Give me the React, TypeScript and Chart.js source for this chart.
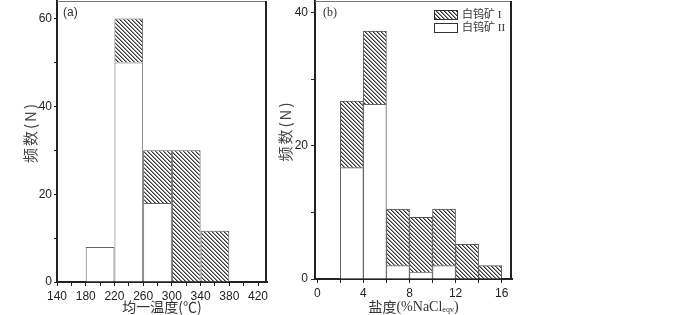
import { useEffect, useRef } from 'react';
import { Chart, registerables } from 'chart.js';

Chart.register(...registerables);

// ---------- Panel (a): homogenization temperature (°C), bins 40 wide ----------
const tempBinStarts = [180, 220, 260, 300, 340];
const tempBinWidth = 40;
const tempScheeliteI = [0, 10, 12, 30, 11.7];
const tempScheeliteII = [8, 50, 18, 0, 0];
const tempTickLabels = [140, 180, 220, 260, 300, 340, 380, 420];
const tempYTickLabels = [0, 20, 40, 60];

// ---------- Panel (b): salinity (%NaCl eqv), bins 2 wide ----------
const salBinStarts = [2, 4, 6, 8, 10, 12, 14];
const salBinWidth = 2;
const salScheeliteI = [10, 11, 8.5, 8.2, 8.5, 5.2, 2.0];
const salScheeliteII = [16.7, 26.2, 2.0, 1.05, 2.0, 0, 0];
const salTickLabels = [0, 4, 8, 12, 16];
const salYTickLabels = [0, 20, 40];

const seriesNames = ['白钨矿 I', '白钨矿 II'];

const TICK_FONT = '"Liberation Sans", Arial, sans-serif';
const CJK = '"Noto Sans CJK SC"';
const SERIF = '"Liberation Serif", "Times New Roman", serif';

function makeHatch(): CanvasPattern | string {
  const c = document.createElement('canvas');
  c.width = 4;
  c.height = 4;
  const g = c.getContext('2d');
  if (!g) return '#999';
  g.fillStyle = '#ffffff';
  g.fillRect(0, 0, 4, 4);
  for (let i = 0; i < 4; i++) {
    g.fillStyle = '#333333';
    g.fillRect(i, i, 1, 1);
    g.fillStyle = '#9a9a9a';
    g.fillRect((i + 1) % 4, i, 1, 1);
  }
  return g.createPattern(c, 'repeat') || '#999';
}

type TitlePart = { text: string; font: string; dy?: number };

interface PanelSpec {
  starts: number[];
  width: number;
  typeI: number[];
  typeII: number[];
  xMin: number;
  xMax: number;
  xStep: number;
  xLabels: number[];
  yMax: number;
  yStep: number;
  yLabels: number[];
  yAxisWidth: number;
  xAxisHeight: number;
  padRight: number;
  yTickLen: number;
  yTickPad: number;
  panelLabel: string;
  panelFont: string;
  panelDx: number;
  xTitle: TitlePart[];
  yTitleOffset: number;
  legend: boolean;
  hatch: CanvasPattern | string;
}

function buildConfig(spec: PanelSpec): any {
  const toPoints = (arr: number[]) =>
    arr.map((v, i) => ({ x: spec.starts[i] + spec.width / 2, y: v === 0 ? null : v }));
  const catPct = spec.width / Math.min(spec.width, spec.xStep);

  const decor = {
    id: 'decor',
    afterDraw(chart: any) {
      const { ctx, chartArea: a } = chart;
      ctx.save();
      // frame: top and right
      ctx.strokeStyle = '#777';
      ctx.lineWidth = 1;
      ctx.beginPath();
      ctx.moveTo(a.left, a.top + 0.5);
      ctx.lineTo(a.right, a.top + 0.5);
      ctx.stroke();
      ctx.strokeStyle = '#222';
      ctx.lineWidth = 2;
      ctx.beginPath();
      ctx.moveTo(a.right - 1, a.top);
      ctx.lineTo(a.right - 1, a.bottom);
      ctx.stroke();

      // panel label
      ctx.fillStyle = '#333';
      ctx.font = spec.panelFont;
      ctx.textAlign = 'left';
      ctx.textBaseline = 'middle';
      ctx.fillText(spec.panelLabel, a.left + spec.panelDx, a.top + 12);

      // y title (rotated)
      ctx.save();
      ctx.translate(a.left - spec.yTitleOffset, (a.top + a.bottom) / 2 - 9);
      ctx.rotate(-Math.PI / 2);
      ctx.font = `15px ${CJK}`;
      ctx.fillStyle = '#444';
      ctx.textAlign = 'center';
      ctx.textBaseline = 'middle';
      try { (ctx as any).letterSpacing = '2px'; } catch (e) { /* ignore */ }
      ctx.fillText('频数(N)', 0, 0);
      ctx.restore();

      // x title (possibly with subscript)
      let total = 0;
      for (const p of spec.xTitle) {
        ctx.font = p.font;
        total += ctx.measureText(p.text).width;
      }
      let x = (a.left + a.right) / 2 - total / 2;
      const y = chart.height - 8;
      ctx.fillStyle = '#333';
      ctx.textAlign = 'left';
      ctx.textBaseline = 'middle';
      for (const p of spec.xTitle) {
        ctx.font = p.font;
        ctx.fillText(p.text, x, y + (p.dy || 0));
        x += ctx.measureText(p.text).width;
      }

      // legend
      if (spec.legend) {
        const items = [...chart.data.datasets].reverse();
        const bw = 24;
        const bh = 10;
        const bx = a.right - 78;
        items.forEach((ds: any, k: number) => {
          const by = a.top + 9 + k * 13;
          ctx.fillStyle = ds.backgroundColor;
          ctx.fillRect(bx, by, bw, bh);
          ctx.strokeStyle = '#333';
          ctx.lineWidth = 1;
          ctx.strokeRect(bx + 0.5, by + 0.5, bw - 1, bh - 1);
          ctx.fillStyle = '#333';
          ctx.font = `11px ${SERIF}, ${CJK}`;
          ctx.textAlign = 'left';
          ctx.textBaseline = 'middle';
          ctx.fillText(ds.label, bx + bw + 4, by + bh / 2 + 0.5);
        });
      }
      ctx.restore();
    },
  };

  return {
    type: 'bar',
    data: {
      datasets: [
        {
          label: seriesNames[1],
          data: toPoints(spec.typeII),
          backgroundColor: '#ffffff',
          borderColor: '#666',
          borderWidth: 1,
          stack: 'hist',
          categoryPercentage: catPct,
          barPercentage: 1,
        },
        {
          label: seriesNames[0],
          data: toPoints(spec.typeI),
          backgroundColor: spec.hatch,
          borderColor: '#555',
          borderWidth: 1,
          stack: 'hist',
          categoryPercentage: catPct,
          barPercentage: 1,
        },
      ],
    },
    options: {
      responsive: false,
      animation: false,
      devicePixelRatio: 1,
      layout: { padding: { top: 1, right: spec.padRight, left: 0, bottom: 0 } },
      plugins: { legend: { display: false }, tooltip: { enabled: false }, title: { display: false } },
      scales: {
        x: {
          type: 'linear',
          offset: false,
          min: spec.xMin,
          max: spec.xMax,
          grid: { display: true, offset: false, drawOnChartArea: false, drawTicks: true, tickLength: 4, tickColor: '#222', color: '#222' },
          border: { display: true, color: '#222', width: 2 },
          ticks: {
            stepSize: spec.xStep,
            includeBounds: false,
            autoSkip: false,
            maxRotation: 0,
            minRotation: 0,
            padding: 3,
            color: '#222',
            font: { family: TICK_FONT, size: 12 },
            callback: (v: any) => (spec.xLabels.some((l) => Math.abs(l - v) < 1e-6) ? String(v) : ''),
          },
          afterFit: (s: any) => {
            s.height = spec.xAxisHeight;
            s.paddingLeft = 0;
            s.paddingRight = 0;
          },
        },
        y: {
          type: 'linear',
          stacked: true,
          min: 0,
          max: spec.yMax,
          grid: { display: true, drawOnChartArea: false, drawTicks: true, tickLength: spec.yTickLen, tickColor: '#222', color: '#222' },
          border: { display: true, color: '#222', width: 2 },
          ticks: {
            stepSize: spec.yStep,
            includeBounds: false,
            autoSkip: false,
            padding: spec.yTickPad,
            color: '#222',
            font: { family: TICK_FONT, size: 12 },
            callback: (v: any) => (spec.yLabels.some((l) => Math.abs(l - v) < 1e-6) ? String(v) : ''),
          },
          afterFit: (s: any) => {
            s.width = spec.yAxisWidth;
            s.paddingTop = 0;
            s.paddingBottom = 0;
          },
        },
      },
    },
    plugins: [decor],
  };
}

export default function App() {
  const refA = useRef<HTMLCanvasElement>(null);
  const refB = useRef<HTMLCanvasElement>(null);

  useEffect(() => {
    const hatch = makeHatch();
    const chartA = new Chart(
      refA.current as HTMLCanvasElement,
      buildConfig({
        starts: tempBinStarts,
        width: tempBinWidth,
        typeI: tempScheeliteI,
        typeII: tempScheeliteII,
        xMin: 140,
        xMax: 432.5,
        xStep: 20,
        xLabels: tempTickLabels,
        yMax: 64,
        yStep: 10,
        yLabels: tempYTickLabels,
        yAxisWidth: 57,
        xAxisHeight: 33,
        padRight: 23,
        yTickLen: 3,
        yTickPad: 2,
        panelLabel: '(a)',
        panelFont: `12px ${TICK_FONT}`,
        panelDx: 6,
        xTitle: [{ text: '均一温度(℃)', font: `14px ${CJK}` }],
        yTitleOffset: 27,
        legend: false,
        hatch,
      })
    );
    const chartB = new Chart(
      refB.current as HTMLCanvasElement,
      buildConfig({
        starts: salBinStarts,
        width: salBinWidth,
        typeI: salScheeliteI,
        typeII: salScheeliteII,
        xMin: -0.2,
        xMax: 16.9,
        xStep: 2,
        xLabels: salTickLabels,
        yMax: 41.7,
        yStep: 10,
        yLabels: salYTickLabels,
        yAxisWidth: 50,
        xAxisHeight: 36,
        padRight: 8,
        yTickLen: 4,
        yTickPad: 3,
        panelLabel: '(b)',
        panelFont: `12px ${SERIF}`,
        panelDx: 8,
        xTitle: [
          { text: '盐度', font: `14px ${CJK}` },
          { text: '(%NaCl', font: `14px ${SERIF}` },
          { text: 'eqv', font: `8px ${SERIF}`, dy: 3 },
          { text: ')', font: `14px ${SERIF}` },
        ],
        yTitleOffset: 30,
        legend: true,
        hatch,
      })
    );
    return () => {
      chartA.destroy();
      chartB.destroy();
    };
  }, []);

  return (
    <div style={{ position: 'fixed', left: 0, top: 0, width: 700, height: 315, background: '#fff', overflow: 'hidden' }}>
      <canvas
        ref={refA}
        width={290}
        height={315}
        style={{ position: 'absolute', left: 0, top: 0, width: 290, height: 315 }}
      />
      <canvas
        ref={refB}
        width={255}
        height={315}
        style={{ position: 'absolute', left: 265, top: 0, width: 255, height: 315 }}
      />
    </div>
  );
}
